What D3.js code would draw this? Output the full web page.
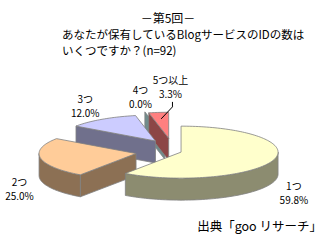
<!DOCTYPE html>
<html>
<head>
<meta charset="utf-8">
<script src="https://cdn.jsdelivr.net/npm/d3@7"></script>
<style>
  html, body { margin: 0; padding: 0; background: #fff; }
  svg { display: block; }
  text { font-family: "Noto Sans CJK JP", "Noto Sans", sans-serif; fill: #000; }
</style>
</head>
<body>
<svg id="svg" width="330" height="240"></svg>
<script>
// data
const categories = ["1つ", "2つ", "3つ", "4つ", "5つ以上"];
const values = [59.8, 25.0, 12.0, 0.0, 3.3];
const titleLines = ["－第5回－", "あなたが保有しているBlogサービスのIDの数は", "いくつですか？(n=92)"];
const sourceText = "出典「goo リサーチ」";

// look of the chart
const topColors = ["#FFFFCC", "#FFCC99", "#CCCCFF", "#CCFFFF", "#FF8080"];
const opts = {
  cx: 172, cy: 151,      // pie centre before explosion
  rx: 97, ry: 26,        // ellipse of the top face
  depth: 22,             // thickness of the pie
  explode: [9.5, 36.5, 30, 35, 32],
  explodeY: 0.4,
  shade: 0.55,
  labelNudge: [[0, 0], [0, 0], [-5, 0], [0, 0], [14, -10]]
};

function sideColor(c) {
  const r = d3.rgb(c);
  return d3.rgb(r.r * opts.shade, r.g * opts.shade, r.b * opts.shade).formatHex();
}

function drawPie() {
  const svg = d3.select("#svg");
  const fmt = d3.format(".1f");

  const arcs = d3.pie().sort(null).startAngle(0).endAngle(2 * Math.PI)(values);

  arcs.forEach((d, i) => {
    const mid = (d.startAngle + d.endAngle) / 2;
    d.mid = mid;
    d.i = i;
    d.cx = opts.cx + opts.explode[i] * Math.sin(mid);
    d.cy = opts.cy - opts.explode[i] * Math.cos(mid) * opts.explodeY;
  });

  const pt = (d, a, h, r = 1) => [
    d.cx + opts.rx * r * Math.sin(a),
    d.cy - opts.ry * r * Math.cos(a) + h * opts.depth
  ];
  const arcPts = (d, a0, a1, h) => {
    const n = Math.max(2, Math.ceil((a1 - a0) / 0.03));
    return d3.range(n + 1).map(k => pt(d, a0 + (a1 - a0) * k / n, h));
  };
  const poly = p => "M" + p.map(q => q[0].toFixed(2) + "," + q[1].toFixed(2)).join("L") + "Z";

  // side faces, collected then drawn back to front
  const faces = [];
  arcs.forEach(d => {
    const c0 = [d.cx, d.cy], c1 = [d.cx, d.cy + opts.depth];
    // radial walls, only when they face the viewer
    if (Math.sin(d.startAngle) < -1e-6) {
      const p0 = pt(d, d.startAngle, 0), p1 = pt(d, d.startAngle, 1);
      faces.push({ d, path: poly([c0, p0, p1, c1]), key: (c0[1] + p0[1]) / 2 });
    }
    if (Math.sin(d.endAngle) > 1e-6) {
      const p0 = pt(d, d.endAngle, 0), p1 = pt(d, d.endAngle, 1);
      faces.push({ d, path: poly([c0, p0, p1, c1]), key: (c0[1] + p0[1]) / 2 });
    }
    // outer curved wall, front half only
    const s = Math.max(d.startAngle, Math.PI / 2);
    const e = Math.min(d.endAngle, 3 * Math.PI / 2);
    if (e > s) {
      const top = arcPts(d, s, e, 0);
      const bot = arcPts(d, s, e, 1).reverse();
      faces.push({ d, path: poly(top.concat(bot)), key: pt(d, (s + e) / 2, 0)[1] });
    }
  });
  faces.sort((a, b) => a.key - b.key);

  svg.append("g").selectAll("path")
    .data(faces)
    .join("path")
    .attr("d", f => f.path)
    .attr("fill", f => sideColor(topColors[f.d.i]))
    .attr("stroke", "#808080")
    .attr("stroke-width", 0.8)
    .attr("stroke-linejoin", "round");

  // top faces
  svg.append("g").selectAll("path")
    .data(arcs.filter(d => d.endAngle - d.startAngle > 1e-6))
    .join("path")
    .attr("d", d => poly([[d.cx, d.cy]].concat(arcPts(d, d.startAngle, d.endAngle, 0))))
    .attr("fill", d => topColors[d.i])
    .attr("stroke", "#808080")
    .attr("stroke-width", 0.8)
    .attr("stroke-linejoin", "round");

  // data labels
  const labels = arcs.map(d => {
    const c = Math.cos(d.mid);
    const x = d.cx + opts.rx * 1.22 * Math.sin(d.mid) + opts.labelNudge[d.i][0];
    const y = d.cy - opts.ry * 1.6 * c + (c < 0 ? opts.depth + 6 : 0) + opts.labelNudge[d.i][1];
    return { d, x, y };
  });

  const lg = svg.append("g").attr("font-size", 10).attr("text-anchor", "middle");
  labels.forEach(l => {
    lg.append("text").attr("x", l.x).attr("y", l.y - 3).text(categories[l.d.i]);
    lg.append("text").attr("x", l.x).attr("y", l.y + 11).text(fmt(values[l.d.i]) + "%");
  });

  // leader line for the small slice
  const small = labels[4];
  const tip = pt(small.d, small.d.mid, 0, 0.75);
  svg.append("path")
    .attr("d", `M${small.x + 2},${small.y + 15}L${small.x + 2},${small.y + 20}L${tip[0]},${tip[1]}`)
    .attr("fill", "none")
    .attr("stroke", "#000")
    .attr("stroke-width", 1);

  // title
  svg.append("text").attr("x", 168).attr("y", 23).attr("font-size", 12)
    .attr("text-anchor", "middle").text(titleLines[0]);
  svg.append("text").attr("x", 62).attr("y", 39).attr("font-size", 11.5).text(titleLines[1]);
  svg.append("text").attr("x", 62).attr("y", 55).attr("font-size", 11.5).text(titleLines[2]);

  // source
  svg.append("text").attr("x", 322).attr("y", 231).attr("font-size", 12.5)
    .attr("text-anchor", "end").text(sourceText);
}

drawPie();
</script>
</body>
</html>
